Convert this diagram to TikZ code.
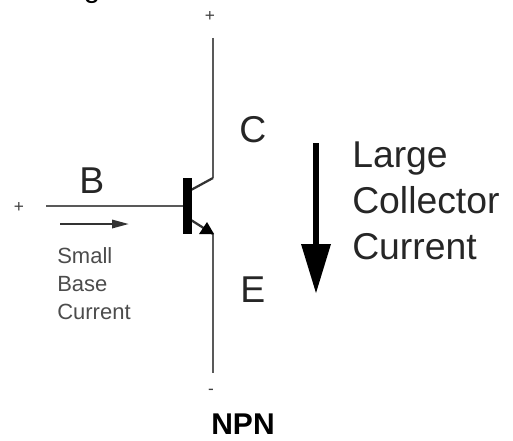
\documentclass[tikz,border=0pt]{standalone}
\usepackage{fontspec}
\setmainfont{Liberation Sans}
\usepackage{tikz}
\usetikzlibrary{calc}
\tikzset{
	lead/.style={line width=2.1pt, color=black!65},
	bigtext/.style={anchor=base west, inner sep=0pt, font=\fontsize{28}{34}\selectfont, color=black!85},
	smalltext/.style={anchor=base west, inner sep=0pt, font=\fontsize{16.5}{20}\selectfont, color=black!70},
	signtext/.style={inner sep=0pt, font=\fontsize{13}{15}\selectfont, color=black!75}
}

\begin{document}
\begin{tikzpicture}[x=7.5pt, y=7.5pt]
			%%%%% START %%%%%
			\useasboundingbox (0, 0) rectangle (51.3, 44);
			
			\clip (0, 0) rectangle (51.3, 44);
			\node[anchor=base, inner sep=0pt, font=\fontsize{22}{26}\selectfont] (headtail) at (9.2, 44.2) {g};
			
			\coordinate (collectortop) at (21.3, 40.2);
			\coordinate (collectorknee) at (21.3, 26.2);
			\coordinate (collectorbar) at (19.1, 25);
			\coordinate (emitterbar) at (19.1, 22);
			\coordinate (emitterknee) at (21.3, 20.6);
			\coordinate (emitterend) at (21.3, 6.7);
			\coordinate (basestart) at (4.6, 23.4);
			\coordinate (baseend) at (18.3, 23.4);
			
			\draw[lead] (collectortop) -- (collectorknee);
			\draw[line width=1.7pt, color=black!80] (collectorknee) -- (collectorbar);
			\draw[lead] (emitterknee) -- (emitterend);
			\draw[line width=1.7pt, color=black!80] (emitterbar) -- (emitterknee);
			\draw[lead] (basestart) -- (baseend);
			
			\draw[fill=black, draw=none] (18.3, 26.2) rectangle (19.15, 20.6);
			\draw[fill=black, draw=none] (19.9, 20.6) -- (20.7, 21.8) -- (21.4, 20.6) -- cycle;
			
			\coordinate (smallstart) at (6, 21.6);
			\coordinate (smallend) at (11.2, 21.6);
			\draw[line width=1.2pt, color=black!80] (smallstart) -- (smallend);
			\draw[fill=black!80, draw=none] (11.2, 22.05) -- (12.85, 21.6) -- (11.2, 21.15) -- cycle;
			
			\coordinate (largestart) at (31.6, 29.7);
			\coordinate (largeend) at (31.6, 19.6);
			\draw[line width=4.2pt] (largestart) -- (largeend);
			\draw[fill=black, draw=none] (30.1, 19.6) -- (33.1, 19.6) -- (31.6, 14.7) -- cycle;
			
			\node[signtext] (plustop) at (21, 42.4) {+};
			\node[signtext] (plusleft) at (1.9, 23.3) {+};
			\node[signtext] (minus) at (21.1, 4.8) {-};
			
			\node[bigtext] (clabel) at (23.9, 29.8) {C};
			\node[bigtext] (elabel) at (24, 13.8) {E};
			\node[bigtext] (blabel) at (7.9, 24.7) {B};
			
			\node[bigtext] (largeone) at (35.2, 27.3) {Large};
			\node[bigtext] (largetwo) at (35.2, 22.7) {Collector};
			\node[bigtext] (largethree) at (35.2, 18.1) {Current};
			
			\node[smalltext] (smallone) at (5.7, 17.7) {Small};
			\node[smalltext] (smalltwo) at (5.7, 14.9) {Base};
			\node[smalltext] (smallthree) at (5.7, 12.1) {Current};
			
			\node[anchor=base, inner sep=0pt, font=\bfseries\fontsize{22.5}{26}\selectfont] (title) at (24.3, 0.55) {NPN};
			%%%%% END %%%%%
		\end{tikzpicture}
\end{document}
